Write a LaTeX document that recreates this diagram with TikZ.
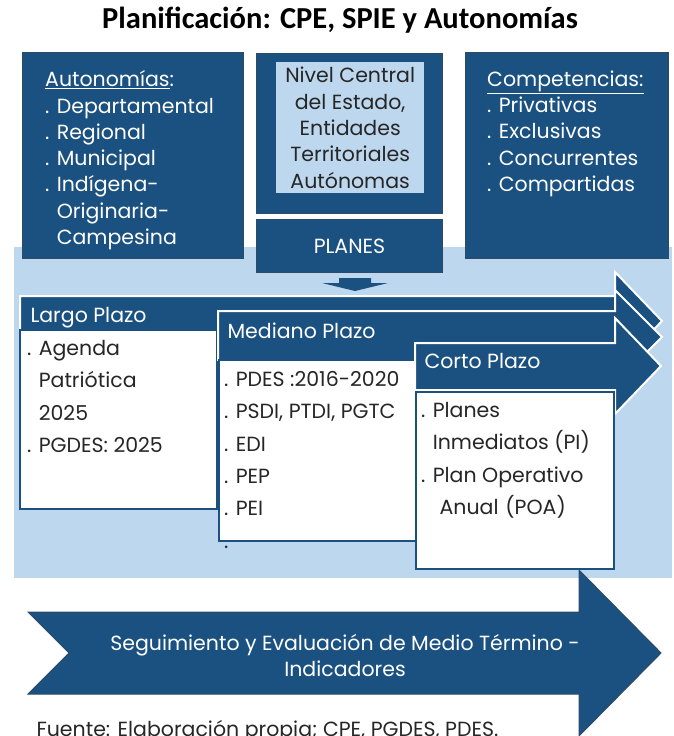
\documentclass[tikz,border=0pt]{standalone}
\usepackage{fontspec}
\setmainfont{Poppins}
\newfontfamily\titlefont{Carlito}
\definecolor{planblue}{HTML}{1A5180}
\definecolor{planlight}{HTML}{BDD7EE}
\definecolor{planedge}{HTML}{2D4B66}
\def\darkbox{\node[draw=planedge,fill=planblue,line width=1pt,inner sep=0pt,anchor=north west]}
\def\whitebox{\node[draw=planblue,fill=white,line width=2.2pt,inner sep=0pt,anchor=north west]}
\def\plazoarrow{\draw[fill=planblue,draw=white,line width=2pt,line join=miter]}
\def\listtext{\node[anchor=north west,inner sep=0pt,align=left]}
\newcommand\topfont{\fontsize{20.5}{26.3}\selectfont}
\newcommand\planfont{\fontsize{20.5}{32.4}\selectfont}

\begin{document}
\begin{tikzpicture}[x=1pt,y=-1pt]
\useasboundingbox (0,0) rectangle (674,736);
\fill[planlight] (14,247) rectangle (672,578);
\node[font=\titlefont\bfseries\fontsize{30.5}{34}\selectfont] (title) at (340,20) {Planificación: CPE, SPIE y Autonomías};
\darkbox[minimum width=221pt,minimum height=206pt] (autbox) at (22,52) {};
\darkbox[minimum width=186pt,minimum height=160pt] (nivelbox) at (256,53) {};
\node[fill=planlight,minimum width=148pt,minimum height=131pt,inner sep=0pt,anchor=north west] (nivelin) at (276,62) {};
\node[align=center,font=\topfont,text=black!85] (niveltext) at (nivelin.center) {Nivel Central\\del Estado,\\Entidades\\Territoriales\\Autónomas};
\darkbox[minimum width=186pt,minimum height=53pt,text=white,font=\topfont] (planes) at (256,219) {PLANES};
\darkbox[minimum width=203pt,minimum height=206pt] (compbox) at (465,52) {};
\listtext[text=white,font=\topfont] (auttext) at (45,70.5) {\underline{Autonomías}:\\. Departamental\\. Regional\\. Municipal\\. Indígena-\\\hphantom{. }Originaria-\\\hphantom{. }Campesina};
\listtext[text=white,font=\topfont] (comptext) at (487,70.5) {\underline{Competencias:}\\. Privativas\\. Exclusivas\\. Concurrentes\\. Compartidas};
\fill[planblue] (339,278) -- (371,278) -- (371,283) -- (388,283) -- (355,291) -- (322,283) -- (339,283) -- cycle;
\plazoarrow (20,296) -- (615,296) -- (615,272) -- (662,321) -- (615,370) -- (615,346) -- (20,346) -- cycle;
\whitebox[minimum width=197pt,minimum height=179pt] (largobox) at (19,329) {};
\node[anchor=base west,text=white,font=\planfont] (largo) at (27,322) {Largo Plazo};
\listtext[font=\planfont,text=black!85] (largotext) at (27,340) {. Agenda\\\hphantom{. }Patriótica\\\hphantom{. }2025\\. PGDES: 2025};
\plazoarrow (218,311) -- (615,311) -- (615,290) -- (662,337) -- (615,384) -- (615,360) -- (218,360) -- cycle;
\whitebox[minimum width=197pt,minimum height=181pt] (medianobox) at (218,359) {};
\node[anchor=base west,text=white,font=\planfont] (mediano) at (224,338) {Mediano Plazo};
\listtext[font=\planfont,text=black!85] (medianotext) at (224,371) {. PDES :2016-2020\\. PSDI, PTDI, PGTC\\. EDI\\. PEP\\. PEI\\.};
\plazoarrow (415,343) -- (615,343) -- (615,318) -- (661,366) -- (615,414) -- (615,390) -- (415,390) -- cycle;
\whitebox[minimum width=198pt,minimum height=177pt] (cortobox) at (415,391) {};
\node[anchor=base west,text=white,font=\planfont] (corto) at (421,368) {Corto Plazo};
\listtext[font=\planfont,text=black!85] (cortotext) at (421,402) {. Planes\\\hphantom{. }Inmediatos (PI)\\. Plan Operativo\\\hphantom{. }\,\,Anual\,\,(POA)};
\draw[fill=planblue,draw=planedge,line width=1pt] (28,612) -- (579,612) -- (579,570) -- (661,653) -- (579,736) -- (579,694) -- (28,694) -- (69,653) -- cycle;
\node[align=center,text=white,font=\fontsize{20.5}{26}\selectfont] (seguimiento) at (345,655) {Seguimiento y Evaluación de Medio Término -\\Indicadores};
\node[anchor=base west,font=\fontsize{20.5}{22}\selectfont,text=black!85] (fuente) at (33,736) {Fuente: Elaboración propia; CPE, PGDES, PDES.};
\end{tikzpicture}
\end{document}
